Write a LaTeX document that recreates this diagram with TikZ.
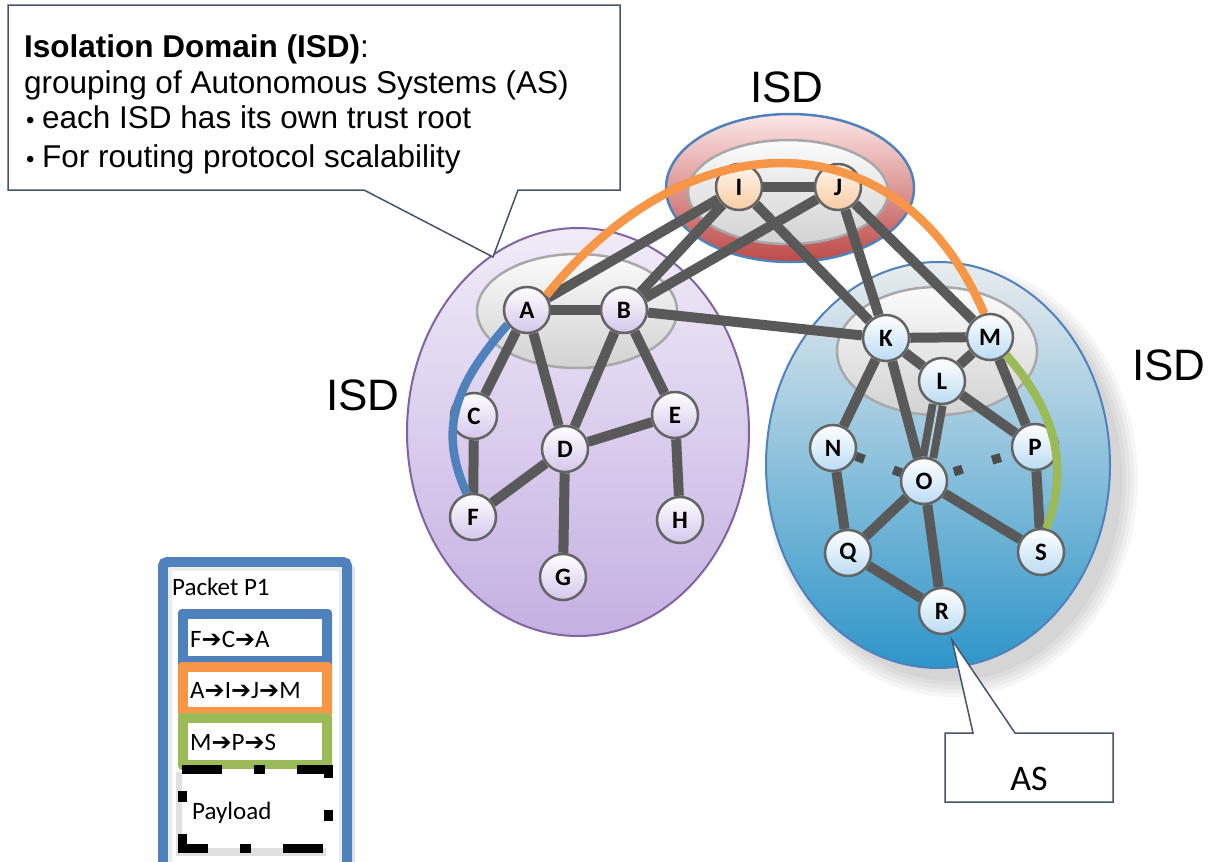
\documentclass[tikz,border=0pt]{standalone}
\usepackage{fontspec}
\setmainfont{Liberation Sans}
\newfontfamily\carl{Carlito}
\newfontfamily\djv{DejaVu Sans}
\usetikzlibrary{shapes.geometric}
\pgfdeclarelayer{back}
\pgfdeclarelayer{edges}
\pgfsetlayers{back,edges,main}

\definecolor{edgegray}{HTML}{595959}
\definecolor{nodeborder}{HTML}{646464}
\definecolor{pblue}{HTML}{4F81BD}
\definecolor{porange}{HTML}{F79646}
\definecolor{pgreen}{HTML}{9BBB59}
\definecolor{slate}{HTML}{44546A}
\definecolor{isdpurple}{HTML}{8064A2}
\definecolor{lavtop}{HTML}{F0EBF8}
\definecolor{lavbot}{HTML}{C4B0E2}
\definecolor{bluetop}{HTML}{E8ECEE}
\definecolor{bluemid}{HTML}{AFD1E2}
\definecolor{bluebot}{HTML}{2E95C9}
\definecolor{pinktop}{HTML}{FDE7E7}
\definecolor{pinkmid}{HTML}{F6D2D1}
\definecolor{redbot}{HTML}{BC4A47}
\definecolor{graytop}{HTML}{FBFBFB}
\definecolor{graybot}{HTML}{D2D2D2}
\definecolor{grayline}{HTML}{A8A8A8}
\definecolor{nodelav}{HTML}{D3C6EA}
\definecolor{nodeblue}{HTML}{BADCF3}
\definecolor{nodepeach}{HTML}{F8CCA2}
\definecolor{nodepeachtop}{HTML}{FFF6EE}

\tikzset{
  asnode/.style={circle, minimum size=46pt, inner sep=0pt, draw=nodeborder, line width=2.5pt,
    font=\carl\bfseries\fontsize{25}{25}\selectfont},
  asL/.style={asnode, top color=white, bottom color=nodelav},
  asR/.style={asnode, top color=white, bottom color=nodeblue},
  asT/.style={asnode, top color=nodepeachtop, bottom color=nodepeach},
  link/.style={draw=edgegray, line width=10pt},
  dotlink/.style={draw=edgegray!85!black, line width=9pt, dash pattern=on 9pt off 31pt},
  innerell/.style={ellipse, inner sep=0pt, draw=grayline, line width=2.5pt, top color=graytop, bottom color=graybot},
  isdlabel/.style={font=\fontsize{44}{44}\selectfont, inner sep=0pt},
  calltext/.style={anchor=base west, inner sep=0pt, font=\fontsize{31.5}{36}\selectfont},
  routepath/.style={line width=8.5pt},
  legtext/.style={anchor=base west, inner sep=0pt, font=\carl\fontsize{25}{25}\selectfont},
  calloutbox/.style={draw=slate, line width=1.5pt, fill=white, line join=miter},
}
\newcommand{\harr}{{\djv\fontsize{24}{24}\selectfont ➔}}

\begin{document}
\begin{tikzpicture}[x=1pt,y=-1pt]
\useasboundingbox (0,0) rectangle (1227,862);

% ---------------- ISD ellipses ----------------
\begin{pgfonlayer}{back}
  \foreach \d in {0,4,8,12,16}
    \fill[black,opacity=0.035] (952,480) ellipse ({170+\d} and {201+\d});
  \node[ellipse, inner sep=0pt, minimum width=342pt, minimum height=408pt,
        draw=isdpurple, line width=2pt, top color=lavtop, bottom color=lavbot] (isdL) at (578,432) {};
  \node[ellipse, inner sep=0pt, minimum width=344pt, minimum height=406pt,
        draw=pblue, line width=2pt, top color=bluetop, middle color=bluemid, bottom color=bluebot] (isdR) at (938,465) {};
  \node[ellipse, inner sep=0pt, minimum width=248pt, minimum height=148pt,
        draw=pblue, line width=2.5pt, top color=pinktop, middle color=pinkmid, bottom color=redbot] (isdT) at (790,188) {};
  \node[innerell, minimum width=200pt, minimum height=104pt] (coreT) at (788,192) {};
  \node[innerell, minimum width=200pt, minimum height=114pt] (coreL) at (577,311) {};
  \node[innerell, minimum width=200pt, minimum height=128pt] (coreR) at (937,351) {};
\end{pgfonlayer}

% ---------------- AS nodes ----------------
\node[asL] (A) at (527,310) {A};
\node[asL] (B) at (624,310) {B};
\node[asL] (C) at (474,416) {C};
\node[asL] (D) at (565,449) {D};
\node[asL] (E) at (675,415) {E};
\node[asL] (F) at (473,517) {F};
\node[asL] (G) at (563,577) {G};
\node[asL] (H) at (680,520) {H};
\node[asT] (I) at (739,187) {I};
\node[asT] (J) at (838,187) {J};
\node[asR] (K) at (886,338) {K};
\node[asR] (M) at (990,337) {M};
\node[asR] (L) at (942,381) {L};
\node[asR] (N) at (833,448) {N};
\node[asR] (O) at (924,481) {O};
\node[asR] (P) at (1035,447) {P};
\node[asR] (Q) at (848,553) {Q};
\node[asR] (S) at (1041,552) {S};
\node[asR] (R) at (942,611) {R};

% ---------------- links ----------------
\begin{pgfonlayer}{edges}
  \foreach \u/\v in {A/B,A/C,A/D,B/D,B/E,D/E,C/F,D/F,D/G,E/H,
                     A/I,B/I,B/J,I/J,I/K,J/K,J/M,B/K,
                     K/M,K/L,L/M,K/N,K/O,L/P,M/P,N/Q,O/Q,O/R,O/S,P/S,Q/R}
    \draw[link] (\u) -- (\v);
  \draw[draw=edgegray, line width=8pt, double=bluemid, double distance=2pt] (L) -- (O);
  \draw[dotlink] (N) -- (O);
  \draw[dotlink, dash phase=33pt] (O) -- (P);
\end{pgfonlayer}

% ---------------- routing paths ----------------
\draw[routepath, draw=porange] (A.37) .. controls (690,116) and (900,116) .. (M.104);
\draw[routepath, draw=pblue] (A.217) .. controls (450,390) and (440,434) .. (F.105);
\draw[routepath, draw=pgreen] (M.-48) .. controls (1050,405) and (1072,460) .. (S.77);

% ---------------- ISD labels ----------------
\node[isdlabel] (lblT) at (787,87) {ISD};
\node[isdlabel] (lblL) at (363,395) {ISD};
\node[isdlabel] (lblR) at (1169,365) {ISD};

% ---------------- callout: Isolation Domain ----------------
\coordinate (tipISD) at (493,257);
\draw[calloutbox] (8,5) -- (620,5) -- (620,190) -- (518,190) -- (tipISD) -- (364,190) -- (8,190) -- cycle;
\node[calltext] (t1) at (24,57) {\textbf{Isolation Domain (ISD)}:};
\node[calltext] (t2) at (24,93) {grouping of Autonomous Systems (AS)};
\node[calltext] (t3) at (26,128) {\makebox[16pt][l]{\fontsize{24}{24}\selectfont•}each ISD has its own trust root};
\node[calltext] (t4) at (26,167) {\makebox[16pt][l]{\fontsize{24}{24}\selectfont•}For routing protocol scalability};

% ---------------- callout: AS ----------------
\coordinate (tipAS) at (952,640);
\draw[calloutbox] (945,733) -- (973,733) -- (tipAS) -- (1015,733) -- (1113,733) -- (1113,802) -- (945,802) -- cycle;
\node[inner sep=0pt, anchor=base, font=\carl\fontsize{36}{36}\selectfont] (asl) at (1029,790) {AS};

% ---------------- packet legend ----------------
\begin{scope}
  \clip (0,0) rectangle (1227,862);
  \fill[black, opacity=0.10] (167,567) rectangle (355,880);
  \draw[pblue, line width=10pt, fill=white, rounded corners=4pt] (163,562) rectangle (347,885);
  \draw[black!8, line width=3pt] (170,569) rectangle (340,885);
\end{scope}
\node[legtext] (pk) at (172,595) {Packet P1};

\fill[pblue, rounded corners=4pt] (178,609) rectangle (332,668);
\fill[white] (188,619) rectangle (322,656);
\fill[porange, rounded corners=4pt] (178,662) rectangle (332,718);
\fill[white] (188,672) rectangle (322,707);
\fill[pgreen, rounded corners=4pt] (178,713) rectangle (332,770);
\fill[white] (188,723) rectangle (322,760);
\node[legtext] (h1) at (190,647) {F\harr C\harr A};
\node[legtext] (h2) at (190,698) {A\harr I\harr J\harr M};
\node[legtext] (h3) at (190,750) {M\harr P\harr S};

\fill[black, opacity=0.12] (176,772) rectangle (326,856);
\draw[black, line width=9pt, fill=white, dash pattern=on 40pt off 32pt on 11pt off 32pt]
  (182,769) -- (328,769) -- (328,848) -- (182,848) -- cycle;
\node[legtext] (pl) at (192,819) {Payload};
\end{tikzpicture}
\end{document}
